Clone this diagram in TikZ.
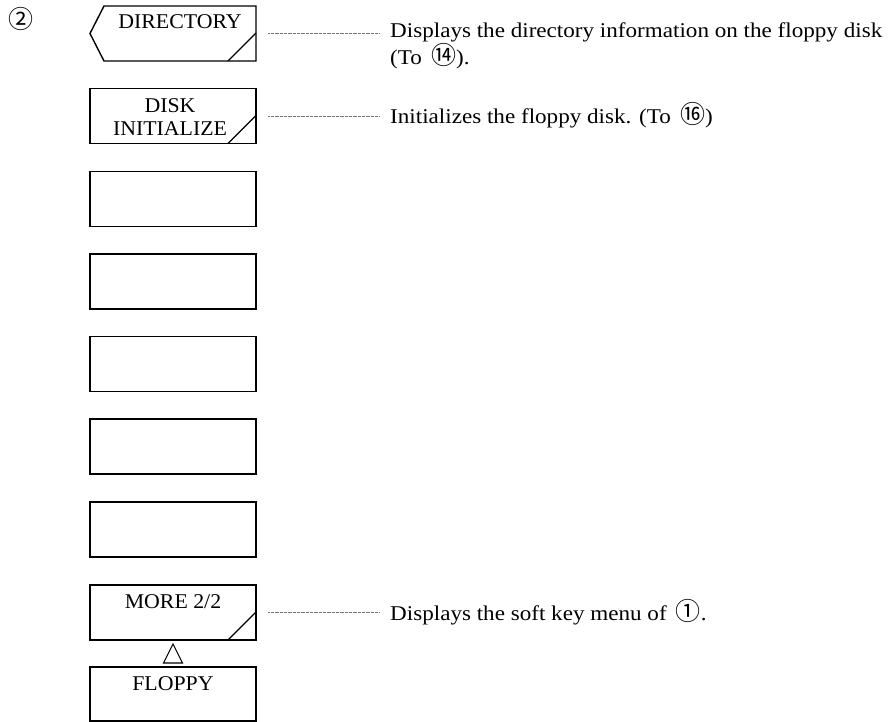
\documentclass[tikz,border=0pt]{standalone}
\usepackage{fontspec}
\setmainfont{Liberation Serif}[FakeStretch=1.04]
\newfontfamily\descfont{Liberation Serif}[FakeStretch=1.10]
\newfontfamily\cjk{Noto Sans CJK JP}
\newcommand{\cnum}[1]{{\cjk\fontsize{25}{25}\selectfont #1}}
\begin{document}
\begin{tikzpicture}[x=1pt,y=-1pt,
  font=\fontsize{21}{23}\selectfont,
  frame/.style={minimum width=166pt, minimum height=55pt, inner sep=0pt, outer sep=0pt},
  keybox/.style={frame, draw, line width=1.4pt},
  lbl/.style={anchor=base, inner sep=0pt, align=center},
  slashline/.style={line width=1.2pt},
  leader/.style={line width=0.9pt, black!55, dash pattern=on 0.8pt off 0.5pt},
  desc/.style={inner sep=0pt, align=left, font=\descfont\fontsize{21}{25}\selectfont},
  tri/.style={line width=1.1pt}
]
\useasboundingbox (0,0) rectangle (892,722);

% menu number
\node[inner sep=0pt] (num) at (21,19) {\cnum{②}};

% DIRECTORY (chevron-shaped key)
\node[frame] (b1) at (173,33.5) {};
\draw[line width=1.4pt, line join=miter] ([xshift=14pt]b1.north west) -- (b1.north east) -- (b1.south east) -- ([xshift=14pt]b1.south west) -- (b1.west) -- cycle;
\node[lbl] (t1) at (180,29) {DIRECTORY};

% DISK INITIALIZE
\node[keybox] (b2) at (173,116) {};
\node[inner sep=0pt, align=center, font=\fontsize{21}{23}\selectfont] (t2) at (170,117) {DISK\\INITIALIZE};

% empty keys
\node[keybox] (b3) at (173,199) {};
\node[keybox] (b4) at (173,281.5) {};
\node[keybox] (b5) at (173,364) {};
\node[keybox] (b6) at (173,446.5) {};
\node[keybox] (b7) at (173,529.5) {};

% MORE 2/2
\node[keybox] (b8) at (173,612.5) {};
\node[lbl] (t8) at (173,608) {MORE 2/2};

% FLOPPY
\node[keybox, minimum height=54pt] (b9) at (173,694) {};
\node[lbl] (t9) at (173,690) {FLOPPY};

% slash marks
\foreach \b in {b1,b2,b8}
  \draw[slashline] ([xshift=-28pt]\b.south east) -- ([yshift=28pt]\b.south east);

% triangle between MORE and FLOPPY
\coordinate (tri) at (173,653.5);
\draw[tri, line join=miter] ([yshift=9.5pt]tri) -- ([xshift=9.5pt,yshift=-9.5pt]tri) -- ([xshift=-9.5pt,yshift=-9.5pt]tri) -- cycle;

% descriptions
\node[desc, anchor=north west] (d1) at (390,23) {Displays the directory information on the floppy disk\\(To \,\cnum{⑭}).};
\node[desc, anchor=base west] (d2) at (390,124) {Initializes the floppy disk. (To \,\cnum{⑯})};
\node[desc, anchor=base west] (d8) at (390,620) {Displays the soft key menu of \,\cnum{①}.};

% leaders
\draw[leader] ([xshift=12pt]b1.east) -- ([xshift=-11pt]d1.west |- b1.east);
\draw[leader] ([xshift=12pt]b2.east) -- ([xshift=-11pt]d2.west |- b2.east);
\draw[leader] ([xshift=12pt]b8.east) -- ([xshift=-11pt]d8.west |- b8.east);
\end{tikzpicture}
\end{document}
